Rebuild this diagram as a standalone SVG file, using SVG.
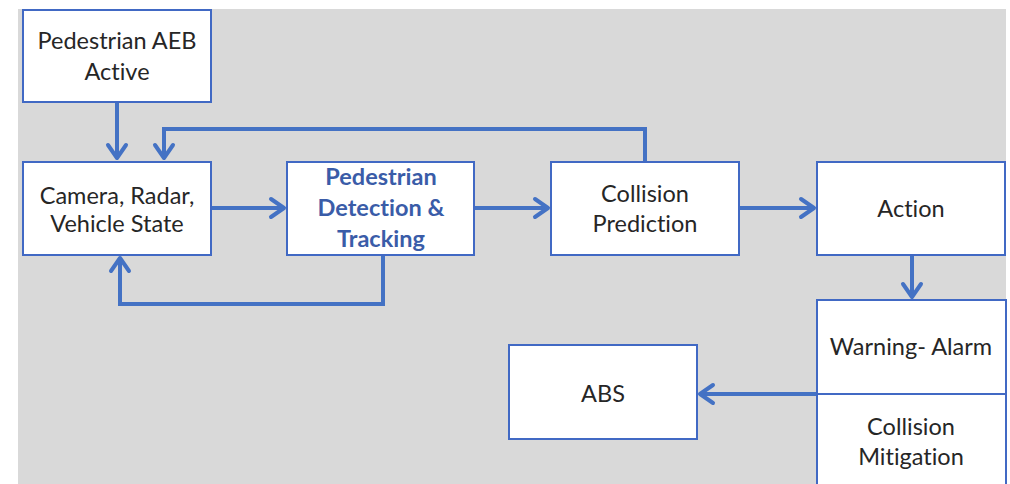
<svg xmlns="http://www.w3.org/2000/svg" width="1010" height="484" viewBox="0 0 1010 484">
  <style>
    .box { fill: #FFFFFF; stroke: #4169C4; stroke-width: 2; }
    .lbl { font-family: Lato, "Open Sans", "Liberation Sans", sans-serif; font-size: 23.5px; fill: #262626; text-anchor: middle; font-variant-ligatures: none; }
    .hl { fill: #3A5CA8; font-weight: bold; }
    .wire { fill: none; stroke: #4472C4; stroke-width: 4; stroke-linejoin: miter; }
  </style>
  <defs>
    <marker id="chev" markerUnits="userSpaceOnUse" viewBox="-20 -12 24 24" markerWidth="24" markerHeight="24" refX="0" refY="0" orient="auto" overflow="visible">
      <path d="M-13,-9 L0,0 L-13,9" fill="none" stroke="#4472C4" stroke-width="4" stroke-linecap="round" stroke-linejoin="round"/>
    </marker>
  </defs>

  <!-- backdrop panel -->
  <rect x="0" y="0" width="1010" height="484" fill="#FFFFFF"/>
  <rect x="18" y="9" width="988" height="475" fill="#D9D9D9"/>

  <!-- connectors -->
  <g id="connectors">
    <path class="wire" d="M117,103 V158" marker-end="url(#chev)"/>
    <path class="wire" d="M645,162 V129 H164 V158" marker-end="url(#chev)"/>
    <path class="wire" d="M211,208 H284" marker-end="url(#chev)"/>
    <path class="wire" d="M383,255 V304 H120 V258" marker-end="url(#chev)"/>
    <path class="wire" d="M474,208 H548" marker-end="url(#chev)"/>
    <path class="wire" d="M739,208 H814" marker-end="url(#chev)"/>
    <path class="wire" d="M912,255 V297" marker-end="url(#chev)"/>
    <path class="wire" d="M817,394 H700" marker-end="url(#chev)"/>
  </g>

  <g id="aeb-active">
    <rect class="box" x="23" y="10" width="188" height="92"/>
    <text class="lbl" x="117" y="49">Pedestrian AEB</text>
    <text class="lbl" x="117" y="80">Active</text>
  </g>

  <g id="sensors">
    <rect class="box" x="23" y="162" width="188" height="93"/>
    <text class="lbl" x="117" y="204">Camera, Radar,</text>
    <text class="lbl" x="117" y="232">Vehicle State</text>
  </g>

  <g id="detection">
    <rect class="box" x="287" y="162" width="187" height="93"/>
    <text class="lbl hl" x="381" y="185">Pedestrian</text>
    <text class="lbl hl" x="381" y="216">Detection &amp;</text>
    <text class="lbl hl" x="381" y="247">Tracking</text>
  </g>

  <g id="prediction">
    <rect class="box" x="551" y="162" width="188" height="93"/>
    <text class="lbl" x="645" y="202">Collision</text>
    <text class="lbl" x="645" y="232">Prediction</text>
  </g>

  <g id="action">
    <rect class="box" x="817" y="162" width="188" height="93"/>
    <text class="lbl" x="911" y="217">Action</text>
  </g>

  <g id="warning">
    <rect class="box" x="817" y="300" width="189" height="94"/>
    <text class="lbl" x="911" y="355">Warning- Alarm</text>
  </g>

  <g id="mitigation">
    <rect class="box" x="817" y="394" width="189" height="96"/>
    <text class="lbl" x="911" y="435">Collision</text>
    <text class="lbl" x="911" y="465">Mitigation</text>
  </g>

  <g id="abs">
    <rect class="box" x="509" y="345" width="188" height="94"/>
    <text class="lbl" x="603" y="402">ABS</text>
  </g>
</svg>
